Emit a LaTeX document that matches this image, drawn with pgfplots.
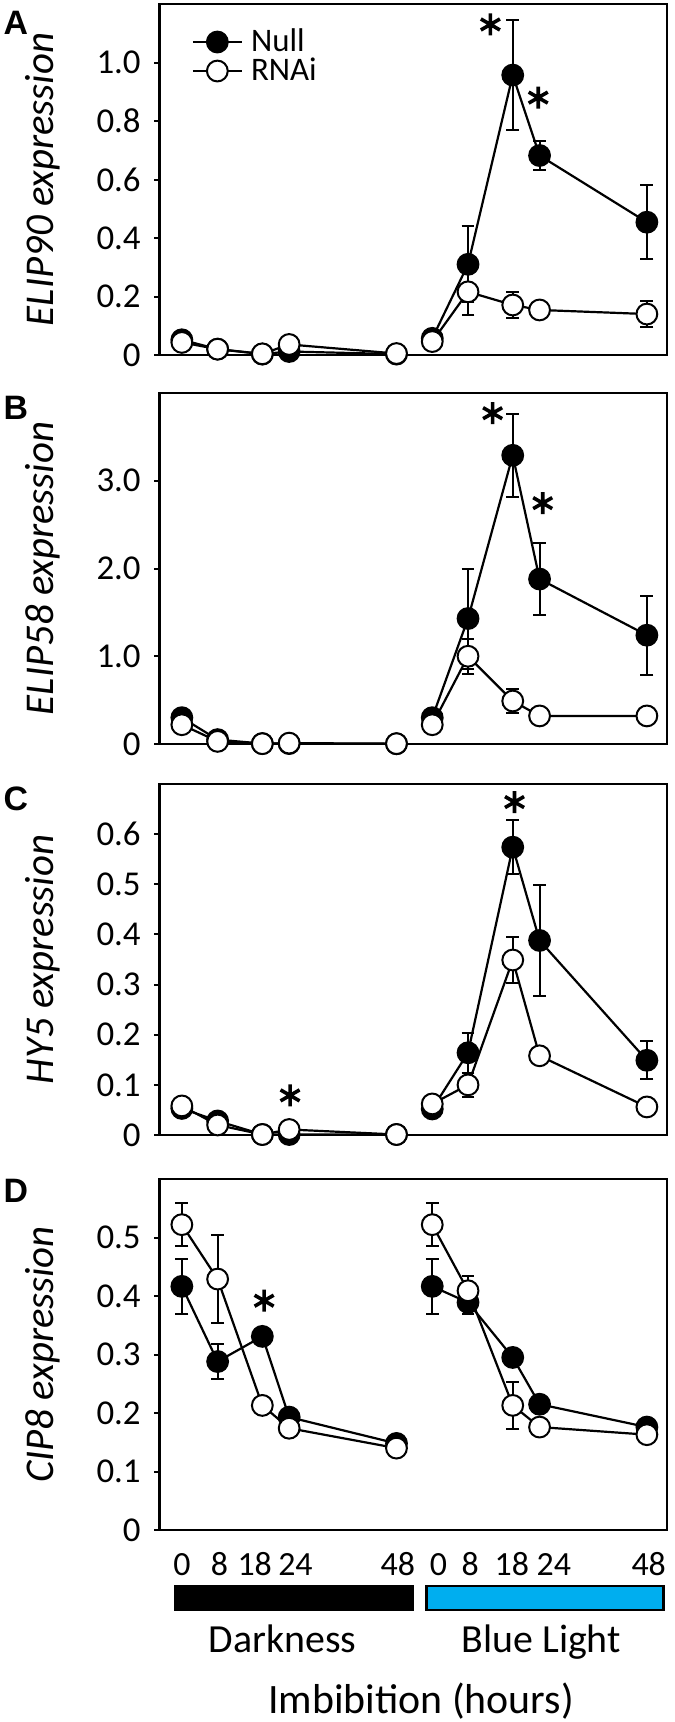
\documentclass[border=0pt]{standalone}
\usepackage{pgfplots}
\pgfplotsset{compat=1.18}
\usepackage{fontspec}
\setmainfont{Carlito}
\newfontfamily\arialfont{Liberation Sans}
\definecolor{bluelight}{RGB}{0,174,239}

\tikzset{letter/.style={font=\fontsize{17}{19}\arialfont\bfseries\selectfont, anchor=center}}
\pgfplotsset{
  panel/.style={
    scale only axis, width=253.75bp, height=175.5bp,
    xmin=-5, xmax=108.5,
    xtick=\empty,
    line width=1.2bp,
    tick align=outside, major tick length=2.5bp,
    ytick pos=left, xtick pos=bottom,
    tick style={line width=1bp, black},
    yticklabel style={font=\fontsize{17.5}{20}\selectfont, xshift=-3bp},
    xticklabel style={font=\fontsize{17}{20}\selectfont},
    ylabel style={font=\fontsize{20.5}{24}\selectfont\itshape, at={(axis description cs:-0.2296,0.5)}, anchor=center},
    clip=false,
    /pgf/number format/assume math mode=true,
  },
  nul/.style={black, line width=1.1bp, mark=*, mark size=5.2bp,
    mark options={fill=black, draw=black, line width=1bp, solid},
    error bars/y dir=both, error bars/y explicit,
    error bars/error bar style={line width=1bp, black, solid},
    error bars/error mark options={rotate=90, mark size=3.2bp, line width=1bp, black}},
  rna/.style={black, line width=1.1bp, mark=*, mark size=5.2bp,
    mark options={fill=white, draw=black, line width=1bp, solid},
    error bars/y dir=both, error bars/y explicit,
    error bars/error bar style={line width=1bp, black, solid},
    error bars/error mark options={rotate=90, mark size=3.2bp, line width=1bp, black}},
  star/.style={only marks, mark=asterisk, mark size=5.5bp, mark options={line width=1.8bp, black}},
}

\begin{document}
\begin{tikzpicture}
\useasboundingbox (0,0) rectangle (337.5bp,-861bp);

% ---------------- Panel A ----------------
\begin{axis}[panel, at={(79.75bp,-177.5bp)}, anchor=south west,
  ymin=0, ymax=1.2, ytick={0,0.2,0.4,0.6,0.8,1.0}, yticklabels={0,0.2,0.4,0.6,0.8,1.0},
  ylabel={ELIP90 expression},
  legend style={at={(0.061,0.935)}, anchor=north west, draw=none, fill=none,
    font=\fontsize{16.5}{19}\selectfont, inner sep=0pt, row sep=0.5bp, column sep=3bp,
    nodes={inner sep=1bp, text height=10.5bp, text depth=1.5bp}},
  legend cell align=left,
  legend image code/.code={\draw[mark repeat=2, mark phase=2] plot coordinates {(0bp,0bp) (12.3bp,0bp) (24.6bp,0bp)};},
]
\addplot[nul] coordinates {(0,0.052) +- (0,0.005) (8,0.02) +- (0,0.003) (18,0.003) +- (0,0) (24,0.012) +- (0,0) (48,0.003) +- (0,0)};
\addlegendentry{Null}
\addplot[nul, forget plot] coordinates {(56,0.057) +- (0,0.005) (64,0.31) +- (0,0.13) (74,0.957) +- (0,0.187) (80,0.682) +- (0,0.05) (104,0.454) +- (0,0.127)};
\addplot[rna] coordinates {(0,0.043) +- (0,0.005) (8,0.02) +- (0,0.003) (18,0.004) +- (0,0) (24,0.036) +- (0,0.004) (48,0.005) +- (0,0)};
\addlegendentry{RNAi}
\addplot[rna, forget plot] coordinates {(56,0.046) +- (0,0.005) (64,0.216) +- (0,0.078) (74,0.171) +- (0,0.044) (80,0.154) +- (0,0.01) (104,0.14) +- (0,0.045)};
\addplot[star, forget plot] coordinates {(69,1.13) (79.7,0.88)};
\node[letter] at (axis description cs:-0.283,0.946) {A};
\end{axis}

% ---------------- Panel B ----------------
\begin{axis}[panel, at={(79.75bp,-372bp)}, anchor=south west,
  ymin=0, ymax=4, ytick={0,1,2,3}, yticklabels={0,1.0,2.0,3.0},
  ylabel={ELIP58 expression},
]
\addplot[nul] coordinates {(0,0.30) +- (0,0.02) (8,0.05) +- (0,0.01) (18,0.005) +- (0,0) (24,0.005) +- (0,0) (48,0.003) +- (0,0)};
\addplot[nul] coordinates {(56,0.30) +- (0,0.03) (64,1.43) +- (0,0.57) (74,3.29) +- (0,0.47) (80,1.88) +- (0,0.41) (104,1.24) +- (0,0.45)};
\addplot[rna] coordinates {(0,0.22) +- (0,0.02) (8,0.03) +- (0,0.01) (18,0.004) +- (0,0) (24,0.01) +- (0,0) (48,0.004) +- (0,0)};
\addplot[rna] coordinates {(56,0.22) +- (0,0.02) (64,1.0) +- (0,0.2) (74,0.49) +- (0,0.14) (80,0.32) +- (0,0.03) (104,0.32) +- (0,0.02)};
\addplot[star] coordinates {(69.5,3.77) (80.7,2.745)};
\node[letter] at (axis description cs:-0.283,0.959) {B};
\end{axis}

% ---------------- Panel C ----------------
\begin{axis}[panel, at={(79.75bp,-567.5bp)}, anchor=south west,
  ymin=0, ymax=0.7, ytick={0,0.1,0.2,0.3,0.4,0.5,0.6}, yticklabels={0,0.1,0.2,0.3,0.4,0.5,0.6},
  ylabel={HY5 expression},
]
\addplot[nul] coordinates {(0,0.053) +- (0,0.004) (8,0.028) +- (0,0.003) (18,0.001) +- (0,0) (24,0.001) +- (0,0) (48,0.001) +- (0,0)};
\addplot[nul] coordinates {(56,0.052) +- (0,0.004) (64,0.164) +- (0,0.04) (74,0.574) +- (0,0.054) (80,0.388) +- (0,0.111) (104,0.149) +- (0,0.038)};
\addplot[rna] coordinates {(0,0.058) +- (0,0.004) (8,0.02) +- (0,0.003) (18,0.001) +- (0,0) (24,0.011) +- (0,0.002) (48,0.001) +- (0,0)};
\addplot[rna] coordinates {(56,0.062) +- (0,0.004) (64,0.10) +- (0,0.024) (74,0.349) +- (0,0.045) (80,0.158) +- (0,0.005) (104,0.056) +- (0,0.005)};
\addplot[star] coordinates {(24.2,0.079) (74.4,0.664)};
\node[letter] at (axis description cs:-0.283,0.959) {C};
\end{axis}

% ---------------- Panel D ----------------
\begin{axis}[panel, at={(79.75bp,-765bp)}, anchor=south west,
  ymin=0, ymax=0.6, ytick={0,0.1,0.2,0.3,0.4,0.5}, yticklabels={0,0.1,0.2,0.3,0.4,0.5},
  ylabel={CIP8 expression},
  xtick={0,8.4,16.3,25.4,48.3,57.4,64.5,73.8,83.2,104.4},
  xticklabels={0,8,18,24,48,0,8,18,24,48},
  xtick style={draw=none},
  xticklabel style={anchor=base, yshift=-20bp},
]
\addplot[nul] coordinates {(0,0.4165) +- (0,0.047) (8,0.288) +- (0,0.03) (18,0.331) +- (0,0.005) (24,0.193) +- (0,0.005) (48,0.148) +- (0,0.005)};
\addplot[nul] coordinates {(56,0.4165) +- (0,0.047) (64,0.389) +- (0,0.02) (74,0.295) +- (0,0.005) (80,0.215) +- (0,0.005) (104,0.176) +- (0,0.005)};
\addplot[rna] coordinates {(0,0.522) +- (0,0.037) (8,0.429) +- (0,0.075) (18,0.213) +- (0,0.01) (24,0.174) +- (0,0.005) (48,0.14) +- (0,0.005)};
\addplot[rna] coordinates {(56,0.522) +- (0,0.037) (64,0.409) +- (0,0.025) (74,0.213) +- (0,0.04) (80,0.176) +- (0,0.014) (104,0.163) +- (0,0.005)};
\addplot[star] coordinates {(18.4,0.392)};
\node[letter] at (axis description cs:-0.283,0.966) {D};
\draw[fill=black, draw=black, line width=1bp] (axis cs:-1.5,-0.0957) rectangle (axis cs:51.8,-0.1368);
\draw[fill=bluelight, draw=black, line width=1.4bp] (axis cs:54.8,-0.0957) rectangle (axis cs:107.8,-0.1368);
\node[font=\fontsize{20}{24}\selectfont, anchor=base] at (axis cs:22.5,-0.2086) {Darkness};
\node[font=\fontsize{20}{24}\selectfont, anchor=base] at (axis cs:80.4,-0.2086) {Blue Light};
\node[font=\fontsize{21}{24}\selectfont, anchor=base] at (axis cs:53.5,-0.3128) {Imbibition (hours)};
\end{axis}
\end{tikzpicture}
\end{document}
